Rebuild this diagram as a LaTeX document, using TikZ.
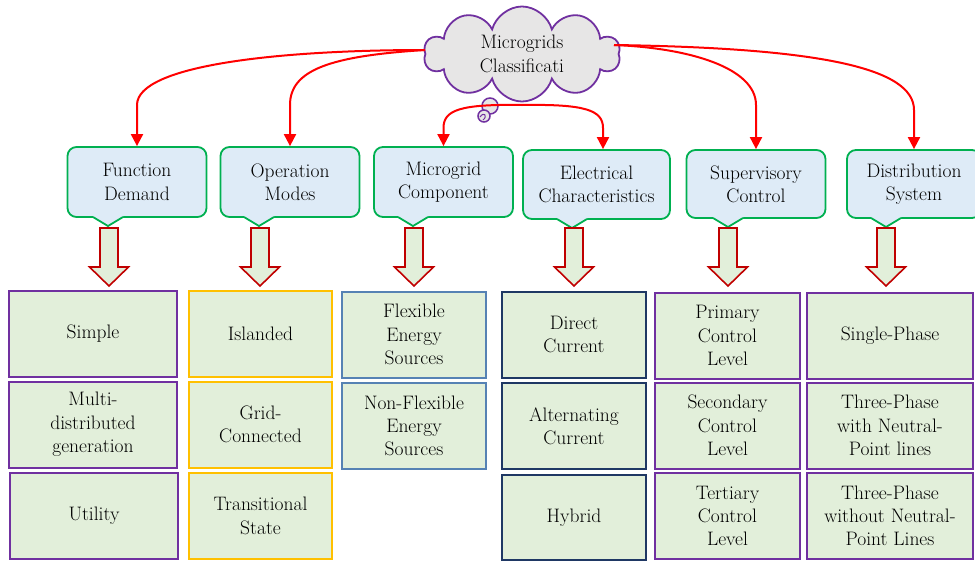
\documentclass[tikz,border=0pt]{standalone}
\usepackage{fontspec}
\usetikzlibrary{shapes.symbols,arrows.meta}
\definecolor{cloudgray}{HTML}{E7E6E6}
\definecolor{mgpurple}{HTML}{7030A0}
\definecolor{mggreen}{HTML}{00B050}
\definecolor{mgblue}{HTML}{DEEBF7}
\definecolor{mgfill}{HTML}{E2EFDA}
\definecolor{mggold}{HTML}{FFC000}
\definecolor{mgsteel}{HTML}{5682B4}
\definecolor{mgnavy}{HTML}{1F3864}
\definecolor{mgdarkred}{HTML}{C00000}
\begin{document}
\begin{tikzpicture}[x=1pt,y=-1pt,
        font=\fontsize{19.5}{23.3}\selectfont\addfontfeature{FakeBold=1},
        redarrow/.style={draw=red, line width=2pt, -{Triangle[length=12pt,width=12pt]}},
        callout/.style={draw=mggreen, fill=mgblue, line width=1.8pt, rounded corners=9pt,
            align=center, minimum width=139pt, minimum height=70pt, inner sep=0pt},
        pointer/.style={draw=mggreen, line width=1.8pt, line join=round},
        blockarrow/.style={fill=mgfill, draw=mgdarkred, line width=1.6pt},
        leaf/.style={fill=mgfill, line width=2pt, minimum height=86pt, align=center, inner sep=0pt}]
        \useasboundingbox (0,0) rectangle (975,560);
        % cloud
        \node[cloud, cloud puffs=10, aspect=2, draw=mgpurple, fill=cloudgray, line width=1.8pt,
            minimum width=196pt, minimum height=95pt, inner sep=0pt, align=center] (cloud) at (522,54) {Microgrids\\Classificati};
        \draw[mgpurple, fill=cloudgray, line width=1.5pt] (490,106) circle (8);
        \draw[mgpurple, fill=cloudgray, line width=1.5pt] (484,116) circle (6);
        \draw[mgpurple, line width=1pt] (480,117) .. controls (484,111) and (488,116) .. (483,120);
        \coordinate (cl) at (425,50);
        \coordinate (cr) at (614,45);
        \coordinate (cb) at (522,105);
        % categories
        \node[callout] (fd) at (137,182) {Function\\Demand};
        \node[callout] (om) at (290,182) {Operation\\Modes};
        \node[callout] (mc) at (443.5,182) {Microgrid\\Component};
        \node[callout, minimum width=147pt, minimum height=69pt] (ec) at (596.5,184.5) {Electrical\\Characteristics};
        \node[callout, minimum height=68pt] (sc) at (756,184) {Supervisory\\Control};
        \node[callout, minimum width=134pt, minimum height=68pt] (ds) at (914,184) {Distribution\\System};
        % pointers
        \fill[mgblue] (93,215) -- ++(30,0) -- ++(0,2) -- ++(-15,9) -- ++(-15,-9) -- cycle;
        \draw[pointer] (93,217) -- ++(15,9) -- ++(15,-9);
        \fill[mgblue] (244,215) -- ++(30,0) -- ++(0,2) -- ++(-15,9) -- ++(-15,-9) -- cycle;
        \draw[pointer] (244,217) -- ++(15,9) -- ++(15,-9);
        \fill[mgblue] (398,215) -- ++(30,0) -- ++(0,2) -- ++(-15,9) -- ++(-15,-9) -- cycle;
        \draw[pointer] (398,217) -- ++(15,9) -- ++(15,-9);
        \fill[mgblue] (557,217) -- ++(30,0) -- ++(0,2) -- ++(-15,9) -- ++(-15,-9) -- cycle;
        \draw[pointer] (557,219) -- ++(15,9) -- ++(15,-9);
        \fill[mgblue] (713,216) -- ++(30,0) -- ++(0,2) -- ++(-15,9) -- ++(-15,-9) -- cycle;
        \draw[pointer] (713,218) -- ++(15,9) -- ++(15,-9);
        \fill[mgblue] (871,216) -- ++(30,0) -- ++(0,2) -- ++(-15,9) -- ++(-15,-9) -- cycle;
        \draw[pointer] (871,218) -- ++(15,9) -- ++(15,-9);
        % red connectors
        \draw[redarrow] (cl) .. controls (280,50) and (137,65) .. (137,105) -- (fd.north);
        \draw[redarrow] (cl) .. controls (330,56) and (290,70) .. (290,105) -- (om.north);
        \draw[redarrow] (cb) .. controls (460,104) and (443.5,110) .. (443.5,128) -- (mc.north);
        \draw[redarrow] (cb) .. controls (585,104) and (603,110) .. (603,128) -- ([xshift=6.5pt]ec.north);
        \draw[redarrow] (cr) .. controls (690,48) and (756,68) .. (756,105) -- (sc.north);
        \draw[redarrow] (cr) .. controls (820,48) and (914,68) .. (914,110) -- (ds.north);
        % block arrows
        \filldraw[blockarrow] (100,228) -- ++(18,0) -- ++(0,39) -- ++(10.5,0) -- ++(-19.5,19) -- ++(-19.5,-19) -- ++(10.5,0) -- cycle;
        \filldraw[blockarrow] (251,228) -- ++(18,0) -- ++(0,39) -- ++(10.5,0) -- ++(-19.5,19) -- ++(-19.5,-19) -- ++(10.5,0) -- cycle;
        \filldraw[blockarrow] (405,228) -- ++(18,0) -- ++(0,39) -- ++(10.5,0) -- ++(-19.5,19) -- ++(-19.5,-19) -- ++(10.5,0) -- cycle;
        \filldraw[blockarrow] (565,228) -- ++(18,0) -- ++(0,39) -- ++(10.5,0) -- ++(-19.5,19) -- ++(-19.5,-19) -- ++(10.5,0) -- cycle;
        \filldraw[blockarrow] (719,228) -- ++(18,0) -- ++(0,39) -- ++(10.5,0) -- ++(-19.5,19) -- ++(-19.5,-19) -- ++(10.5,0) -- cycle;
        \filldraw[blockarrow] (877,228) -- ++(18,0) -- ++(0,39) -- ++(10.5,0) -- ++(-19.5,19) -- ++(-19.5,-19) -- ++(10.5,0) -- cycle;
        % function demand
        \node[leaf, draw=mgpurple, minimum width=168pt] (simple) at (93,333.5) {Simple};
        \node[leaf, draw=mgpurple, minimum width=168pt] (multi) at (93,424.5) {Multi-\\distributed\\generation};
        \node[leaf, draw=mgpurple, minimum width=168pt] (utility) at (94,515.5) {Utility};
        % operation modes
        \node[leaf, draw=mggold, minimum width=143pt] (islanded) at (260.5,333.5) {Islanded};
        \node[leaf, draw=mggold, minimum width=143pt] (gridconn) at (260.5,424.5) {Grid-\\Connected};
        \node[leaf, draw=mggold, minimum width=143pt] (transit) at (260.5,516) {Transitional\\State};
        % microgrid component
        \node[leaf, draw=mgsteel, minimum width=144pt] (flex) at (414,334.5) {Flexible\\Energy\\Sources};
        \node[leaf, draw=mgsteel, minimum width=144pt] (nonflex) at (414,426) {Non-Flexible\\Energy\\Sources};
        % electrical characteristics
        \node[leaf, draw=mgnavy, minimum width=144pt] (dc) at (574,334.5) {Direct\\Current};
        \node[leaf, draw=mgnavy, minimum width=144pt] (ac) at (574,426) {Alternating\\Current};
        \node[leaf, draw=mgnavy, minimum width=144pt, minimum height=85pt] (hybrid) at (574,517.5) {Hybrid};
        % supervisory control
        \node[leaf, draw=mgpurple, minimum width=145pt] (primary) at (727.5,335.5) {Primary\\Control\\Level};
        \node[leaf, draw=mgpurple, minimum width=145pt] (secondary) at (727.5,425.5) {Secondary\\Control\\Level};
        \node[leaf, draw=mgpurple, minimum width=145pt] (tertiary) at (727.5,516) {Tertiary\\Control\\Level};
        % distribution system
        \node[leaf, draw=mgpurple, minimum width=166pt] (single) at (890,335.5) {Single-Phase};
        \node[leaf, draw=mgpurple, minimum width=166pt] (tpwith) at (890,425.5) {Three-Phase\\with Neutral-\\Point lines};
        \node[leaf, draw=mgpurple, minimum width=166pt] (tpwithout) at (890,516) {Three-Phase\\without Neutral-\\Point Lines};
    \end{tikzpicture}
\end{document}
